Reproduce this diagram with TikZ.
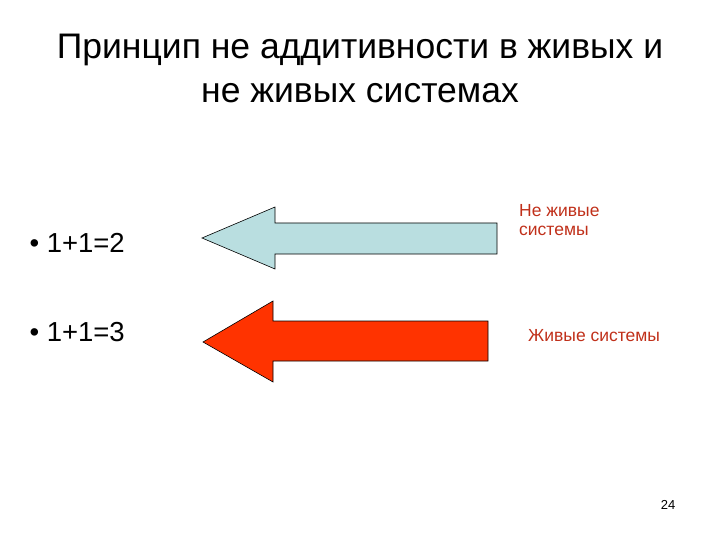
\documentclass[tikz,border=0pt]{standalone}
\usepackage{fontspec}
\setmainfont{Liberation Sans}
\definecolor{lblue}{HTML}{B9DEE0}
\definecolor{ared}{HTML}{FF3300}
\definecolor{tred}{HTML}{C0301A}
\begin{document}
\begin{tikzpicture}[x=1pt,y=-1pt,
  arr/.style={draw=black,line width=0.6pt,line join=miter},
  lbl/.style={text=tred,font=\fontsize{17.5}{19}\selectfont,align=left,inner sep=0}]
\useasboundingbox (0,0) rectangle (720,540);
\node[font=\fontsize{35.5}{44}\selectfont,align=center] (title) at (360,68) {Принцип не аддитивности в живых и\\не живых системах};
\node[anchor=west,font=\fontsize{27.5}{30}\selectfont] (b1) at (26,243) {• 1+1=2};
\node[anchor=west,font=\fontsize{27.5}{30}\selectfont] (b2) at (26,332) {• 1+1=3};
\draw[arr,fill=lblue] (202,238) -- (275,207) -- (275,223) -- (497,223) -- (497,254) -- (275,254) -- (275,269) -- cycle;
\draw[arr,fill=ared] (203,342) -- (273,301) -- (273,321) -- (488,321) -- (488,361) -- (273,361) -- (273,382) -- cycle;
\node[lbl,anchor=north west] (l1) at (519,204) {Не живые\\системы};
\node[lbl,anchor=west] (l2) at (528,336) {Живые системы};
\node[font=\fontsize{13}{15}\selectfont] (pg) at (668,505) {24};
\end{tikzpicture}
\end{document}
